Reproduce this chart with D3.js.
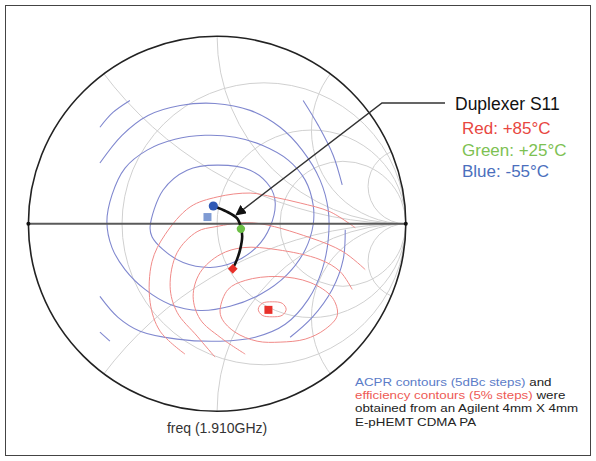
<!DOCTYPE html>
<html><head><meta charset="utf-8">
<script src="https://cdn.jsdelivr.net/npm/d3@7"></script>
<style>
body{margin:0;background:#fff}
svg{display:block}
text{font-family:"Liberation Sans",Arial,sans-serif}
</style>
</head><body>
<svg id="chart" width="596" height="461"></svg>
<script>
// Smith chart grid (normalized resistance circles and reactance arcs)
const resistanceCircles = [0.33, 1, 2];
const reactanceArcs = [0.5, 1, 2, 5, -0.5, -1, -2, -5];

// Duplexer S11 sweep, reflection coefficient [re, im]
const s11Sweep = [[-0.020,0.095],[0.051,0.065],[0.105,0.030],[0.126,-0.018],[0.133,-0.067],[0.122,-0.138],[0.105,-0.191],[0.083,-0.240]];
const s11Cold = [-0.020, 0.095];   // -55°C
const s11Room = [0.126, -0.027];   // +25°C
const s11Hot  = [0.083, -0.240];   // +85°C
const acprOptimum = [-0.051, 0.036];
const effOptimum  = [0.272, -0.459];
const arrowTarget = [0.101, 0.048];

// ACPR contours (5 dBc steps)
const acpr1 = [[-0.355,-0.016],[-0.286,0.180],[-0.159,0.286],[0,0.313],[0.175,0.286],[0.281,0.196],[0.308,0.111],[0.281,-0.016],[0.212,-0.122],[0.085,-0.207],[-0.037,-0.233],[-0.180,-0.207],[-0.286,-0.138],[-0.345,-0.069]];
const acpr2 = [[-0.584,0.011],[-0.557,0.154],[-0.488,0.297],[-0.371,0.393],[-0.223,0.451],[-0.064,0.472],[0.095,0.462],[0.239,0.419],[0.377,0.340],[0.467,0.233],[0.509,0.101],[0.509,-0.005],[0.467,-0.138],[0.371,-0.271],[0.228,-0.377],[0.069,-0.440],[-0.090,-0.462],[-0.249,-0.430],[-0.382,-0.350],[-0.488,-0.244],[-0.557,-0.127]];
const acpr3 = [[-0.621,-0.387],[-0.525,-0.499],[-0.408,-0.573],[-0.212,-0.615],[0.016,-0.626],[0.202,-0.605],[0.361,-0.536],[0.483,-0.403],[0.557,-0.244],[0.589,-0.085],[0.589,0.074],[0.546,0.233],[0.451,0.393],[0.334,0.515],[0.175,0.605],[-0.011,0.642],[-0.196,0.631],[-0.366,0.578],[-0.504,0.472],[-0.621,0.324]];
const acpr4a = [[-0.621,0.515],[-0.552,0.594],[-0.462,0.658]];
const acpr4b = [[-0.621,-0.578],[-0.568,-0.626]];
const acpr4c = [[0.456,0.658],[0.536,0.525],[0.615,0.366],[0.663,0.207]];
const acpr4d = [[0.679,-0.032],[0.668,-0.191],[0.610,-0.350],[0.504,-0.499],[0.387,-0.605]];

// Efficiency contours (5% steps)
const eff1 = [[0.218,-0.456],[0.239,-0.424],[0.292,-0.416],[0.345,-0.424],[0.366,-0.456],[0.345,-0.488],[0.292,-0.496],[0.239,-0.488]];
const eff2 = [[0.016,-0.456],[0.058,-0.350],[0.149,-0.302],[0.318,-0.281],[0.493,-0.313],[0.610,-0.393],[0.637,-0.488],[0.573,-0.562],[0.467,-0.615],[0.334,-0.631],[0.212,-0.626],[0.095,-0.578],[0.027,-0.509]];
const eff3 = [[0.149,-0.695],[0.016,-0.605],[-0.090,-0.509],[-0.127,-0.387],[-0.090,-0.260],[0.016,-0.164],[0.138,-0.127],[0.318,-0.138],[0.546,-0.191],[0.652,-0.255],[0.716,-0.350]];
const eff4 = [[-0.011,-0.711],[-0.106,-0.599],[-0.212,-0.472],[-0.249,-0.334],[-0.212,-0.154],[-0.106,-0.042],[-0.011,-0.016],[0.191,0.005],[0.493,-0.074],[0.668,-0.149],[0.785,-0.244]];
const eff5 = [[-0.170,-0.695],[-0.302,-0.573],[-0.355,-0.419],[-0.345,-0.202],[-0.276,-0.058],[-0.143,0.090],[0,0.143],[0.175,0.164],[0.297,0.143],[0.440,0.111],[0.599,0.064],[0.732,-0.021]];

const legendLines = [
  {text:"Red: +85°C", color:"#e8473f"},
  {text:"Green: +25°C", color:"#7dc152"},
  {text:"Blue: -55°C", color:"#4b6fbd"}
];

const noteLines = [
  [{t:"ACPR contours (5dBc steps)", c:"#5b7cc8"}, {t:" and", c:"#222"}],
  [{t:"efficiency contours (5% steps)", c:"#ee5a55"}, {t:" were", c:"#222"}],
  [{t:"obtained from an Agilent 4mm X 4mm", c:"#222"}],
  [{t:"E-pHEMT CDMA PA", c:"#222"}]
];

const svg = d3.select("#chart");
const gx = d3.scaleLinear().domain([-1,1]).range([28.4, 405.8]);
const gy = d3.scaleLinear().domain([-1,1]).range([411.3, 36.3]);
const rx = v => gx(v) - gx(0);
const ry = v => gy(0) - gy(v);

// frame
svg.append("rect").attr("x",5.5).attr("y",5.5).attr("width",585).attr("height",450)
  .attr("fill","none").attr("stroke","#444").attr("stroke-width",1);

svg.append("clipPath").attr("id","unit").append("ellipse")
  .attr("cx",gx(0)).attr("cy",gy(0)).attr("rx",rx(1)).attr("ry",ry(1));

const grid = svg.append("g").attr("clip-path","url(#unit)")
  .attr("fill","none").attr("stroke","#d0d0d0").attr("stroke-width",1);
grid.selectAll("ellipse.r").data(resistanceCircles).join("ellipse").attr("class","r")
  .attr("cx",r=>gx(r/(1+r))).attr("cy",gy(0))
  .attr("rx",r=>rx(1/(1+r))).attr("ry",r=>ry(1/(1+r)));
grid.selectAll("ellipse.x").data(reactanceArcs).join("ellipse").attr("class","x")
  .attr("cx",gx(1)).attr("cy",x=>gy(1/x))
  .attr("rx",x=>rx(1/Math.abs(x))).attr("ry",x=>ry(1/Math.abs(x)));

const line = d3.line().x(d=>gx(d[0])).y(d=>gy(d[1])).curve(d3.curveCatmullRom);
const closed = d3.line().x(d=>gx(d[0])).y(d=>gy(d[1])).curve(d3.curveCatmullRomClosed);

const blue = "#8088cf", red = "#f08a88";
const cont = svg.append("g").attr("fill","none").attr("clip-path","url(#unit)");
[acpr1, acpr2].forEach(c => cont.append("path").attr("d",closed(c)).attr("stroke",blue).attr("stroke-width",1.1));
[acpr3, acpr4a, acpr4b, acpr4c, acpr4d].forEach(c => cont.append("path").attr("d",line(c)).attr("stroke",blue).attr("stroke-width",1.1));
[eff1, eff2].forEach(c => cont.append("path").attr("d",closed(c)).attr("stroke",red).attr("stroke-width",1));
[eff3, eff4, eff5].forEach(c => cont.append("path").attr("d",line(c)).attr("stroke",red).attr("stroke-width",1));

// outer boundary and real axis
svg.append("ellipse").attr("cx",gx(0)).attr("cy",gy(0)).attr("rx",rx(1)).attr("ry",ry(1))
  .attr("fill","none").attr("stroke","#222").attr("stroke-width",1.6);
svg.append("line").attr("x1",gx(-1)).attr("x2",gx(1)).attr("y1",gy(0)).attr("y2",gy(0))
  .attr("stroke","#5a5a5a").attr("stroke-width",2);
[-1,1].forEach(v => svg.append("circle").attr("cx",gx(v)).attr("cy",gy(0)).attr("r",2).attr("fill","#111"));

// S11 sweep and markers
svg.append("path").attr("d",line(s11Sweep)).attr("fill","none").attr("stroke","#111").attr("stroke-width",2.6);
svg.append("rect").attr("x",gx(acprOptimum[0])-4).attr("y",gy(acprOptimum[1])-4).attr("width",8).attr("height",8).attr("fill","#7f9bd3");
svg.append("rect").attr("x",gx(effOptimum[0])-4).attr("y",gy(effOptimum[1])-4).attr("width",8).attr("height",8).attr("fill","#e8302a");
svg.append("circle").attr("cx",gx(s11Cold[0])).attr("cy",gy(s11Cold[1])).attr("r",4.6).attr("fill","#2f59b5");
svg.append("circle").attr("cx",gx(s11Room[0])).attr("cy",gy(s11Room[1])).attr("r",4.2).attr("fill","#6cbf45");
svg.append("path").attr("d",d3.symbol(d3.symbolDiamond2,60)()).attr("transform",`translate(${gx(s11Hot[0])},${gy(s11Hot[1])})`).attr("fill","#e8302a");

// annotation arrow
const defs = svg.append("defs");
defs.append("marker").attr("id","ah").attr("viewBox","0 0 10 10").attr("refX",9).attr("refY",5)
  .attr("markerWidth",7).attr("markerHeight",7).attr("orient","auto")
  .append("path").attr("d","M0,0 L10,5 L0,10 z").attr("fill","#111");
svg.append("polyline").attr("points",`445,103 382,103 ${gx(arrowTarget[0])},${gy(arrowTarget[1])}`)
  .attr("fill","none").attr("stroke","#333").attr("stroke-width",1.5).attr("marker-end","url(#ah)");

svg.append("text").attr("x",455).attr("y",110).attr("font-size",17.5).attr("fill","#111").text("Duplexer S11");
svg.selectAll("text.leg").data(legendLines).join("text").attr("class","leg")
  .attr("x",462).attr("y",(d,i)=>134+i*21.5).attr("font-size",17).attr("fill",d=>d.color).text(d=>d.text);

svg.append("text").attr("x",gx(0)).attr("y",433).attr("text-anchor","middle").attr("font-size",14).attr("fill","#333").text("freq (1.910GHz)");

// explanatory note, slightly widened type
const noteG = svg.append("g").attr("transform","translate(355,0) scale(1.15,1)");
noteLines.forEach((segs, i) => {
  const t = noteG.append("text").attr("x",0).attr("y",386 + i*13.2).attr("font-size",11.6);
  segs.forEach(s => t.append("tspan").attr("fill",s.c).text(s.t));
});
</script>
</body></html>
